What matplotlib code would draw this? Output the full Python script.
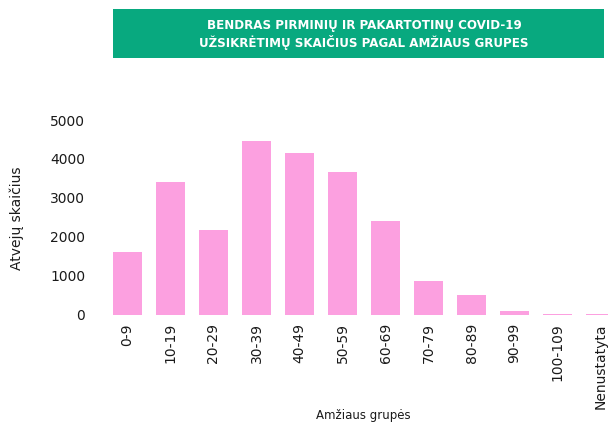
import matplotlib
matplotlib.use("Agg")
import matplotlib.pyplot as plt
from matplotlib.patches import Rectangle

plt.rcParams['font.family'] = ['DejaVu Sans']

age_groups = ["0-9", "10-19", "20-29", "30-39", "40-49", "50-59", "60-69",
              "70-79", "80-89", "90-99", "100-109", "Nenustatyta"]
cases = [1610, 3400, 2170, 4450, 4145, 3660, 2400, 870, 510, 100, 25, 25]
y_ticks = [0, 1000, 2000, 3000, 4000, 5000]

title_lines = "BENDRAS PIRMINIŲ IR PAKARTOTINŲ COVID-19\nUŽSIKRĖTIMŲ SKAIČIUS PAGAL AMŽIAUS GRUPES"

W, H = 608, 425
fig = plt.figure(figsize=(W / 100, H / 100), dpi=100)
fig.patch.set_facecolor("white")

# axes placement in pixel units
left, right, top, bottom = 106, 608, 120, 314.7
ax = fig.add_axes([left / W, 1 - bottom / H, (right - left) / W, (bottom - top) / H])

x = list(range(len(age_groups)))
ax.bar(x, cases, width=0.67, color="#FCA0E0")
ax.set_xlim(-0.5, (right - 127.5) / 43)
ax.set_ylim(0, 5000)
ax.set_yticks(y_ticks)
ax.set_yticklabels([str(v) for v in y_ticks], fontsize=10, color="#1a1a1a")
ax.set_xticks(x)
ax.set_xticklabels(age_groups, rotation=90, fontsize=10, color="#1a1a1a")
ax.tick_params(axis="both", length=0)
ax.tick_params(axis="y", pad=15)
ax.tick_params(axis="x", pad=6)
for s in ax.spines.values():
    s.set_visible(False)

fig.text(17 / W, 1 - 218 / H, "Atvejų skaičius", rotation=90, ha="center",
         va="center", fontsize=10, color="#1a1a1a")
fig.text(363 / W, 1 - 416 / H, "Amžiaus grupės", ha="center", va="center",
         fontsize=8.5, color="#1a1a1a")

# header banner
fig.patches.append(Rectangle((113 / W, 1 - 58 / H), (604 - 113) / W, (58 - 9) / H,
                             transform=fig.transFigure, facecolor="#08A97F",
                             edgecolor="none", zorder=0))
fig.text(364 / W, 1 - 34.5 / H, title_lines, ha="center", va="center",
         fontsize=8.6, fontweight="heavy", color="white", linespacing=1.3)

fig.savefig("out.png", dpi=100)
